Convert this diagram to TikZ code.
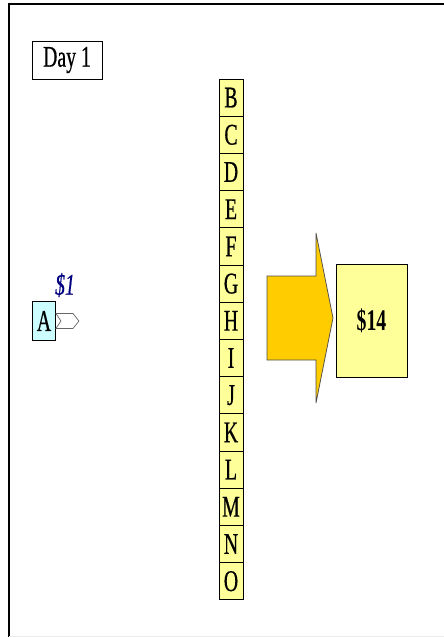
\documentclass[tikz,border=0pt]{standalone}
\usepackage{fontspec}
\setmainfont{Liberation Serif}
\newfontface\heavy{Liberation Serif}[FakeBold=0.7]
\newfontface\heavyit{Liberation Serif Italic}[FakeBold=0.7]
\usetikzlibrary{calc}
\definecolor{cellyellow}{HTML}{FFFF99}
\definecolor{cellcyan}{HTML}{CCFFFF}
\definecolor{arrowgold}{HTML}{FFCC00}
\definecolor{navy}{HTML}{000080}
\newcommand{\bigfont}{\fontsize{30}{30}\selectfont}
\newcommand{\cond}[1]{\scalebox{0.66}[1]{#1}}
\tikzset{
  cell/.style={draw=black, line width=0.9pt, fill=cellyellow, minimum width=24pt, minimum height=37.2pt, inner sep=0pt, font=\heavy\bigfont},
  boxnode/.style={draw=black, line width=0.9pt, inner sep=0pt},
}
\begin{document}
\begin{tikzpicture}[x=1pt,y=-1pt]
\useasboundingbox (0,0) rectangle (444,637);
% frame
\draw[line width=1.3pt, black] (9,637) -- (9,4) -- (444,4);
\draw[line width=0.6pt, black!8] (9,636) -- (444,636);
% Day 1
\node[boxnode, minimum width=70pt, minimum height=38pt, font=\heavy\bigfont] (day) at (67,60) {\cond{Day 1}};
% column
\foreach \L [count=\i from 0] in {B,C,D,E,F,G,H,I,J,K,L,M,N,O} {
  \node[cell] (c\L) at (231, 79+18.6+37.2*\i) {\cond{\L}};
}
% A box
\node[boxnode, fill=cellcyan, minimum width=23pt, minimum height=39pt, font=\heavy\bigfont] (a) at (44,321) {\cond{A}};
\draw[draw=gray!80!black, line width=0.7pt, fill=white]
  ($(a.east)+(0,-7.5)$) -- ++(17,0) -- ++(6,7.5) -- ++(-6,7.5) -- ++(-17,0) -- ++(5,-7.5) -- cycle;
\node[font=\heavyit\bigfont, text=navy] (price1) at (65,285) {\cond{\$1}};
% big arrow
\coordinate (arrtip) at (333,318);
\draw[draw=black!70, line width=0.7pt, fill=arrowgold]
  (267,276) -- (316,276) -- (316,233) -- (arrtip) -- (316,403) -- (316,360) -- (267,360) -- cycle;
% result box
\node[boxnode, fill=cellyellow, minimum width=71pt, minimum height=113pt, font=\bigfont\bfseries] (res) at (371.5,320.5) {\cond{\$14}};
\end{tikzpicture}
\end{document}
